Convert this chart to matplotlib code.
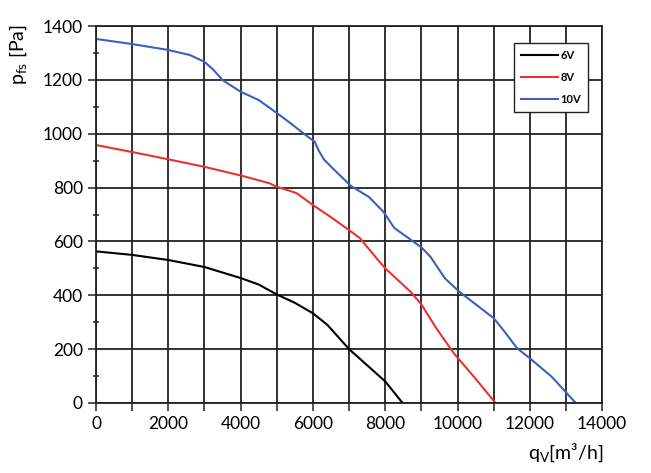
import matplotlib.pyplot as plt
from matplotlib.ticker import MultipleLocator

plt.rcParams['font.family'] = ['Lato', 'DejaVu Sans']
plt.rcParams['mathtext.default'] = 'regular'

# fan curves: flow q_V [m3/h] vs pressure p_fs [Pa]
q_6v = [0, 1000, 2000, 3000, 4000, 4500, 5000, 5500, 6000, 6400, 7000, 7600,
        8000, 8480]
p_6v = [563, 550, 531, 505, 464, 440, 403, 372, 333, 290, 200, 128, 80, 0]

q_8v = [0, 1000, 2000, 3000, 4000, 4800, 5000, 5400, 5550, 6000, 6500, 7000,
        7300, 7800, 8000, 8700, 9000, 9400, 9900, 10500, 11050]
p_8v = [958, 932, 905, 877, 845, 816, 803, 786, 779, 735, 690, 642,
        612, 531, 500, 413, 366, 280, 184, 90, 0]

q_10v = [0, 1000, 2000, 2600, 3000, 3250, 3500, 4000, 4500, 5000, 5400, 5750,
         6050, 6150, 6300, 6550, 7050, 7550, 7950, 8250, 9000, 9250, 9650,
         10050, 11000, 11300, 11650, 12000, 12600, 13270]
p_10v = [1352, 1333, 1311, 1292, 1267, 1237, 1199, 1156, 1125, 1077, 1037, 1000,
         970, 940, 905, 871, 806, 765, 710, 650, 578, 543, 463,
         413, 315, 265, 203, 166, 98, 0]

series = [('6V', q_6v, p_6v, 'black'),
          ('8V', q_8v, p_8v, '#e8342f'),
          ('10V', q_10v, p_10v, '#3b62b8')]

fig = plt.figure(figsize=(6.51, 4.73), dpi=100)
ax = fig.add_axes([0.1475, 0.148, 0.7775, 0.797])

for name, q, p, col in series:
    ax.plot(q, p, color=col, lw=1.5, label=name)

ax.set_xlim(0, 14000)
ax.set_ylim(0, 1400)
ax.xaxis.set_major_locator(MultipleLocator(2000))
ax.xaxis.set_minor_locator(MultipleLocator(1000))
ax.yaxis.set_major_locator(MultipleLocator(200))
ax.yaxis.set_minor_locator(MultipleLocator(100))

ax.grid(which='major', axis='y', color='#222222', lw=1.3)
ax.grid(which='both', axis='x', color='#222222', lw=1.3)
ax.tick_params(which='major', length=6, width=1.1, labelsize=12.5, color='#222222')
ax.tick_params(which='minor', axis='x', length=6, width=1.1, color='#222222')
ax.tick_params(which='minor', axis='y', length=4, width=1.1, direction='inout',
               color='#222222')
ax.tick_params(right=False, top=False)
for s in ax.spines.values():
    s.set_color('#222222')
    s.set_linewidth(1.3)

ax.set_axisbelow(True)

fig.text(0.012, 0.95, r'$p_{fs}$ [Pa]', rotation=90, fontsize=14,
         ha='left', va='top')
fig.text(0.927, 0.02, r'$q_V$[m³/h]', fontsize=14, ha='right', va='bottom')

leg = ax.legend(loc='upper right', bbox_to_anchor=(0.972, 0.955),
                prop={'weight': 'bold', 'size': 8},
                fancybox=False, edgecolor='#222222', framealpha=1,
                handlelength=3.4, handletextpad=0.2, borderpad=0.6,
                labelspacing=1.0, borderaxespad=0)
leg.get_frame().set_linewidth(1.0)

fig.savefig('out.png', dpi=100)
